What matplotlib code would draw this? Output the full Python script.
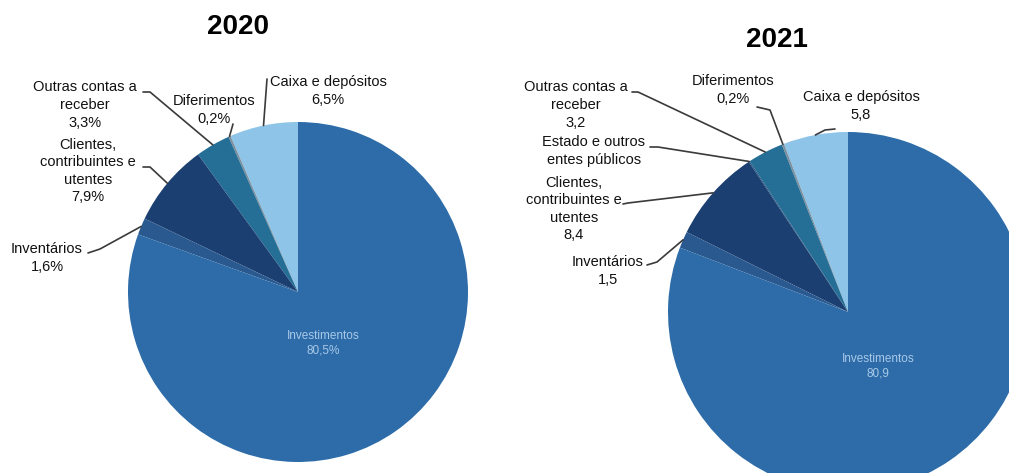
import numpy as np
import matplotlib
matplotlib.use("Agg")
import matplotlib.pyplot as plt

plt.rcParams['font.family'] = ['Liberation Sans', 'DejaVu Sans']

# ---- data ----
years = ["2020", "2021"]
labels_2020 = ["Caixa e depósitos", "Diferimentos", "Outras contas a receber",
               "Clientes, contribuintes e utentes", "Inventários", "Investimentos"]
values_2020 = [6.5, 0.2, 3.3, 7.9, 1.6, 80.5]
texts_2020 = ["Caixa e depósitos\n6,5%", "Diferimentos\n0,2%", "Outras contas a\nreceber\n3,3%",
              "Clientes,\ncontribuintes e\nutentes\n7,9%", "Inventários\n1,6%", "Investimentos\n80,5%"]

labels_2021 = ["Caixa e depósitos", "Diferimentos", "Outras contas a receber",
               "Estado e outros entes públicos", "Clientes, contribuintes e utentes",
               "Inventários", "Investimentos"]
values_2021 = [5.8, 0.2, 3.2, 0.1, 8.4, 1.5, 80.9]
texts_2021 = ["Caixa e depósitos\n5,8", "Diferimentos\n0,2%", "Outras contas a\nreceber\n3,2",
              "Estado e outros\nentes públicos", "Clientes,\ncontribuintes e\nutentes\n8,4",
              "Inventários\n1,5", "Investimentos\n80,9"]

color_map = {
    "Caixa e depósitos": "#8DC4E7",
    "Diferimentos": "#7C8F9E",
    "Outras contas a receber": "#256F97",
    "Estado e outros entes públicos": "#1F5280",
    "Clientes, contribuintes e utentes": "#1C3F72",
    "Inventários": "#29598F",
    "Investimentos": "#2D6CA9",
}

W, H = 1009, 473
fig = plt.figure(figsize=(W / 100, H / 100), dpi=100)
ax = fig.add_axes([0, 0, 1, 1])

def Y(ypx):
    return H - ypx

def draw_pie(values, labels, center_px, radius):
    cx, cy = center_px[0], Y(center_px[1])
    ax.pie(values, colors=[color_map[l] for l in labels], startangle=90,
           counterclock=True, center=(cx, cy), radius=radius,
           wedgeprops=dict(linewidth=0))
    # anchor points at wedge mid angles
    cum = np.cumsum([0] + list(values))
    tot = cum[-1]
    anchors = []
    for i in range(len(values)):
        mid = 90 + (cum[i] + cum[i + 1]) / 2 / tot * 360
        a = np.deg2rad(mid)
        anchors.append((cx + radius * np.cos(a), cy + radius * np.sin(a)))
    return anchors

lab_kw = dict(ha='center', va='center', fontsize=10.5, color='#111111',
              linespacing=1.32, multialignment='center')
line_kw = dict(color='#3a3a3a', lw=1.2, solid_capstyle='round')

def leader(points_px, anchor):
    xs = [p[0] for p in points_px] + [anchor[0]]
    ys = [Y(p[1]) for p in points_px] + [anchor[1]]
    ax.plot(xs, ys, **line_kw)

# ---- 2020 ----
a20 = draw_pie(values_2020, labels_2020, (298, 292), 170)
pos20 = [(328, 91), (214, 110), (85, 105), (88, 171), (47, 258)]
for t, p in zip(texts_2020[:5], pos20):
    ax.text(p[0], Y(p[1]), t, **lab_kw)
leader([(267, 79)], a20[0])
leader([(233, 124)], a20[1])
leader([(143, 92), (150, 92)], a20[2])
leader([(143, 167), (150, 167)], a20[3])
leader([(88, 253), (100, 249)], a20[4])
ax.text(323, Y(343), texts_2020[5], ha='center', va='center', fontsize=8.5,
        color='#A9C9E8', linespacing=1.3, multialignment='center')
ax.text(238, Y(27), years[0], ha='center', va='center', fontsize=20,
        fontweight='bold', color='#000000')

# ---- 2021 ----
a21 = draw_pie(values_2021, labels_2021, (848, 312), 180)
pos21 = [(861, 106), (733, 90), (576, 105), (594, 151), (574, 209), (608, 271)]
for t, p in zip(texts_2021[:6], pos21):
    ax.text(p[0], Y(p[1]), t, **lab_kw)
leader([(835, 129), (825, 130)], a21[0])
leader([(757, 107), (770, 110)], a21[1])
leader([(632, 92), (638, 92)], a21[2])
leader([(650, 147), (658, 147)], a21[3])
leader([(623, 204), (628, 203)], a21[4])
leader([(647, 265), (657, 262)], a21[5])
ax.text(878, Y(366), texts_2021[6], ha='center', va='center', fontsize=8.5,
        color='#A9C9E8', linespacing=1.3, multialignment='center')
ax.text(777, Y(40), years[1], ha='center', va='center', fontsize=20,
        fontweight='bold', color='#000000')

ax.set_xlim(0, W)
ax.set_ylim(0, H)
ax.set_aspect('equal')
ax.axis('off')

fig.savefig("out.png", dpi=100)
